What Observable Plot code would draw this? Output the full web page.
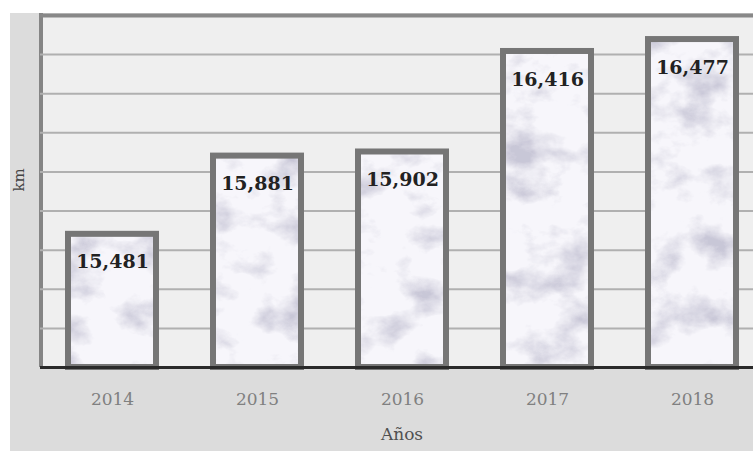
<!DOCTYPE html>
<html>
<head>
<meta charset="utf-8">
<script src="https://cdn.jsdelivr.net/npm/d3@7"></script>
<script src="https://cdn.jsdelivr.net/npm/@observablehq/plot@0.6"></script>
<style>
  html, body { margin: 0; padding: 0; background: #ffffff; }
  #chart svg { display: block; }
</style>
</head>
<body>
<div id="chart"></div>
<script>
// ---- data ----
const years = ["2014", "2015", "2016", "2017", "2018"];
const lengthsKm = [15481, 15881, 15902, 16416, 16477];
const gridTicks = [15000, 15200, 15400, 15600, 15800, 16000, 16200, 16400];
const yDomain = [14800, 16600];
const xTitle = "Años";
const yTitle = "km";

const data = years.map((year, i) => ({ year, km: lengthsKm[i] }));
const fmt = d3.format(",");

const W = 753, H = 451;
const mL = 40, mR = 0, mT = 15, mB = 84;

function background(index, scales, values, dims) {
  const g = d3.create("svg:g");
  g.append("rect").attr("x", 10).attr("y", 13)
    .attr("width", dims.width - 10).attr("height", dims.height - 13)
    .attr("fill", "#dcdcdc");
  g.append("rect").attr("x", dims.marginLeft).attr("y", dims.marginTop)
    .attr("width", dims.width - dims.marginLeft - dims.marginRight)
    .attr("height", dims.height - dims.marginTop - dims.marginBottom)
    .attr("fill", "#efefef");
  g.append("line")
    .attr("x1", dims.marginLeft + 1).attr("x2", dims.marginLeft + 1)
    .attr("y1", dims.marginTop - 2).attr("y2", dims.height - dims.marginBottom)
    .attr("stroke", "#858585").attr("stroke-width", 4);
  return g.node();
}

const chart = Plot.plot({
  width: W, height: H,
  marginLeft: mL, marginRight: mR, marginTop: mT, marginBottom: mB,
  style: { background: "#ffffff", fontFamily: "'DejaVu Serif', serif" },
  x: { domain: years, range: [39.5, 764.5], paddingInner: 0.393, paddingOuter: 0.1965, align: 0.5 },
  y: { domain: yDomain, axis: null },
  marks: [
    background,
    Plot.ruleY(gridTicks, { stroke: "#b0b0b0", strokeWidth: 2 }),
    Plot.barY(data, { x: "year", y1: yDomain[0], y2: "km", fill: "url(#marble)" }),
    Plot.barY(data, { x: "year", y1: yDomain[0], y2: "km", fill: "none", stroke: "#767676", strokeWidth: 6 }),
    Plot.ruleY([yDomain[0]], { stroke: "#2a2a2a", strokeWidth: 3 }),
    Plot.ruleY([yDomain[1]], { stroke: "#888888", strokeWidth: 4 }),
    Plot.axisX({ tickSize: 0, tickPadding: 25, fontSize: 17, fill: "#808080", label: null }),
    Plot.text(data, { x: "year", y: "km", text: d => fmt(d.km), dy: 28, fontSize: 19, fontWeight: "bold", fill: "#222222" }),
    Plot.text([xTitle], { frameAnchor: "bottom", dy: 72, dx: 5, fontSize: 17, fill: "#505050" }),
    Plot.text([yTitle], { frameAnchor: "left", dx: -21, rotate: -90, fontSize: 15, fill: "#444444" })
  ]
});

// marble texture definition for the bars
const defs = d3.select(chart).insert("defs", ":first-child");
const filt = defs.append("filter").attr("id", "marbleF")
  .attr("x", 0).attr("y", 0).attr("width", W).attr("height", H)
  .attr("filterUnits", "userSpaceOnUse");
filt.append("feTurbulence").attr("type", "fractalNoise")
  .attr("baseFrequency", "0.022 0.03").attr("numOctaves", 5).attr("seed", 11).attr("result", "t");
filt.append("feColorMatrix").attr("in", "t").attr("type", "matrix")
  .attr("values", "0 0 0 0 0.58  0 0 0 0 0.57  0 0 0 0 0.68  2.6 0 0 0 -1.2")
  .attr("result", "v");
filt.append("feGaussianBlur").attr("in", "v").attr("stdDeviation", 0.6).attr("result", "vb");
filt.append("feFlood").attr("flood-color", "#f7f6fb").attr("result", "bg");
const merge = filt.append("feMerge");
merge.append("feMergeNode").attr("in", "bg");
merge.append("feMergeNode").attr("in", "vb");
const pat = defs.append("pattern").attr("id", "marble")
  .attr("patternUnits", "userSpaceOnUse").attr("width", W).attr("height", H);
pat.append("rect").attr("width", W).attr("height", H).attr("fill", "#fff").attr("filter", "url(#marbleF)");

document.getElementById("chart").appendChild(chart);
</script>
</body>
</html>
